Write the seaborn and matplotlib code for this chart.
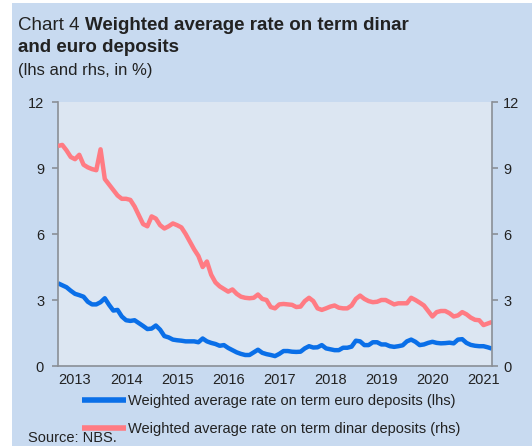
import numpy as np
import pandas as pd
import matplotlib
matplotlib.use("Agg")
import matplotlib.pyplot as plt
import seaborn as sns
from matplotlib.patches import Rectangle

sns.set_theme(style="white")
plt.rcParams["font.family"] = ["Liberation Sans", "DejaVu Sans"]

# Monthly observations, January 2013 onwards (in %)
euro_rate = [
    3.76, 3.67, 3.58, 3.42, 3.28, 3.22, 3.15, 2.92, 2.80, 2.80, 2.90, 3.08,
    2.78, 2.52, 2.55, 2.25, 2.08, 2.05, 2.08, 1.95, 1.82, 1.68, 1.70, 1.84,
    1.65, 1.36, 1.30, 1.20, 1.17, 1.15, 1.12, 1.12, 1.12, 1.08, 1.25, 1.12,
    1.05, 1.00, 0.92, 0.95, 0.82, 0.72, 0.62, 0.55, 0.50, 0.50, 0.62, 0.74,
    0.60, 0.54, 0.50, 0.45, 0.55, 0.68, 0.68, 0.65, 0.64, 0.65, 0.80, 0.90,
    0.84, 0.85, 0.95, 0.80, 0.76, 0.72, 0.72, 0.83, 0.83, 0.88, 1.15, 1.12,
    0.95, 0.95, 1.08, 1.08, 0.98, 0.98, 0.90, 0.87, 0.90, 0.94, 1.12, 1.20,
    1.10, 0.95, 0.98, 1.05, 1.10, 1.05, 1.03, 1.04, 1.06, 1.03, 1.20, 1.22,
    1.05, 0.96, 0.92, 0.90, 0.90, 0.85, 0.79,
]
dinar_rate = [
    10.00, 10.05, 9.80, 9.50, 9.40, 9.60, 9.15, 9.03, 8.95, 8.90, 9.85, 8.50,
    8.25, 8.00, 7.75, 7.60, 7.60, 7.55, 7.25, 6.85, 6.45, 6.35, 6.80, 6.70,
    6.40, 6.25, 6.35, 6.48, 6.40, 6.30, 6.00, 5.65, 5.30, 5.00, 4.50, 4.75,
    4.15, 3.80, 3.62, 3.50, 3.38, 3.48, 3.28, 3.15, 3.10, 3.08, 3.10, 3.25,
    3.05, 3.00, 2.68, 2.62, 2.80, 2.82, 2.80, 2.78, 2.68, 2.70, 2.95, 3.10,
    2.95, 2.62, 2.55, 2.62, 2.70, 2.75, 2.65, 2.62, 2.62, 2.75, 3.05, 3.20,
    3.05, 2.95, 2.90, 2.92, 3.00, 3.00, 2.90, 2.80, 2.85, 2.85, 2.85, 3.10,
    3.00, 2.88, 2.75, 2.50, 2.25, 2.45, 2.50, 2.50, 2.40, 2.25, 2.30, 2.45,
    2.35, 2.20, 2.10, 2.08, 1.86, 1.93, 2.00,
]
years = ["2013", "2014", "2015", "2016", "2017", "2018", "2019", "2020", "2021"]
y_ticks = [0, 3, 6, 9, 12]

euro_label = "Weighted average rate on term euro deposits (lhs)"
dinar_label = "Weighted average rate on term dinar deposits (rhs)"

df = pd.DataFrame({
    "month": np.arange(len(euro_rate)),
    "euro": euro_rate,
    "dinar": dinar_rate,
})

BLUE = "#0a6fe8"
PINK = "#ff7b83"
PANEL = "#c8daf0"
PLOT_BG = "#dce6f2"
AXIS_GREY = "#8a8f96"
TEXT = "#222222"

W, H = 532, 446
fig = plt.figure(figsize=(W / 100, H / 100), dpi=100)
fig.patch.set_facecolor(PANEL)
# thin white margin along the left and top edges
fig.patches.append(Rectangle((0, 0), 12 / W, 1, transform=fig.transFigure,
                             facecolor="white", edgecolor="none"))
fig.patches.append(Rectangle((0, 1 - 3 / H), 1, 3 / H, transform=fig.transFigure,
                             facecolor="white", edgecolor="none"))

ax = fig.add_axes([58 / W, 80 / H, 434 / W, 264 / H])
ax.set_facecolor(PLOT_BG)
ax2 = ax.twinx()

sns.lineplot(data=df, x="month", y="dinar", ax=ax2, color=PINK, lw=3.2,
             solid_capstyle="butt", label=dinar_label, legend=False)
sns.lineplot(data=df, x="month", y="euro", ax=ax, color=BLUE, lw=3.2,
             solid_capstyle="butt", label=euro_label, legend=False)

for a in (ax, ax2):
    a.set_ylim(0, 12)
    a.set_yticks(y_ticks)
    a.set_xlim(0, len(euro_rate) - 1)
    a.set_xlabel("")
    a.set_ylabel("")
    a.grid(False)
    for s in a.spines.values():
        s.set_color(AXIS_GREY)
        s.set_linewidth(1.2)
    a.spines["top"].set_visible(False)

ax.spines["right"].set_visible(False)
ax2.spines["left"].set_visible(False)
ax2.spines["bottom"].set_visible(False)

ax.tick_params(axis="y", direction="out", length=4, width=1.2, color=AXIS_GREY,
               labelsize=10.5, labelcolor=TEXT, pad=6, left=True)
ax2.tick_params(axis="y", direction="out", length=4, width=1.2, color=AXIS_GREY,
                labelsize=10.5, labelcolor=TEXT, pad=4, right=True)
ax.set_xticks([4 + 12 * k for k in range(len(years))])
ax.set_xticklabels(years)
ax.tick_params(axis="x", length=0, labelsize=10.5, labelcolor=TEXT, pad=5)

# Title block: regular "Chart 4" followed by the bold heading
t1 = fig.text(18 / W, 1 - 25 / H, "Chart 4 ", fontsize=13.5, color=TEXT,
              va="center", ha="left")
fig.canvas.draw()
bb = t1.get_window_extent()
fig.text(bb.x1 / fig.bbox.width, 1 - 25 / H,
         "Weighted average rate on term dinar", fontsize=13.5,
         fontweight="bold", color=TEXT, va="center", ha="left")
fig.text(18 / W, 1 - 47 / H, "and euro deposits", fontsize=13.5,
         fontweight="bold", color=TEXT, va="center", ha="left")
fig.text(18 / W, 1 - 70 / H, "(lhs and rhs, in %)", fontsize=12,
         color=TEXT, va="center", ha="left")

# Legend below the axis
handles = [ax.get_lines()[0], ax2.get_lines()[0]]
labels = [euro_label, dinar_label]
leg = fig.legend(handles, labels, loc="upper left",
                 bbox_to_anchor=(82 / W, 1 - 394 / H), frameon=False,
                 fontsize=10.5, handlelength=3.0, handletextpad=0.15,
                 labelspacing=0.95, borderaxespad=0, borderpad=0)
for t in leg.get_texts():
    t.set_color(TEXT)
for h in leg.legend_handles:
    h.set_linewidth(4)

fig.text(28 / W, 1 - 438 / H, "Source: NBS.", fontsize=10.5, color=TEXT,
         va="center", ha="left")

fig.savefig("out.png", dpi=100, facecolor=fig.get_facecolor())
